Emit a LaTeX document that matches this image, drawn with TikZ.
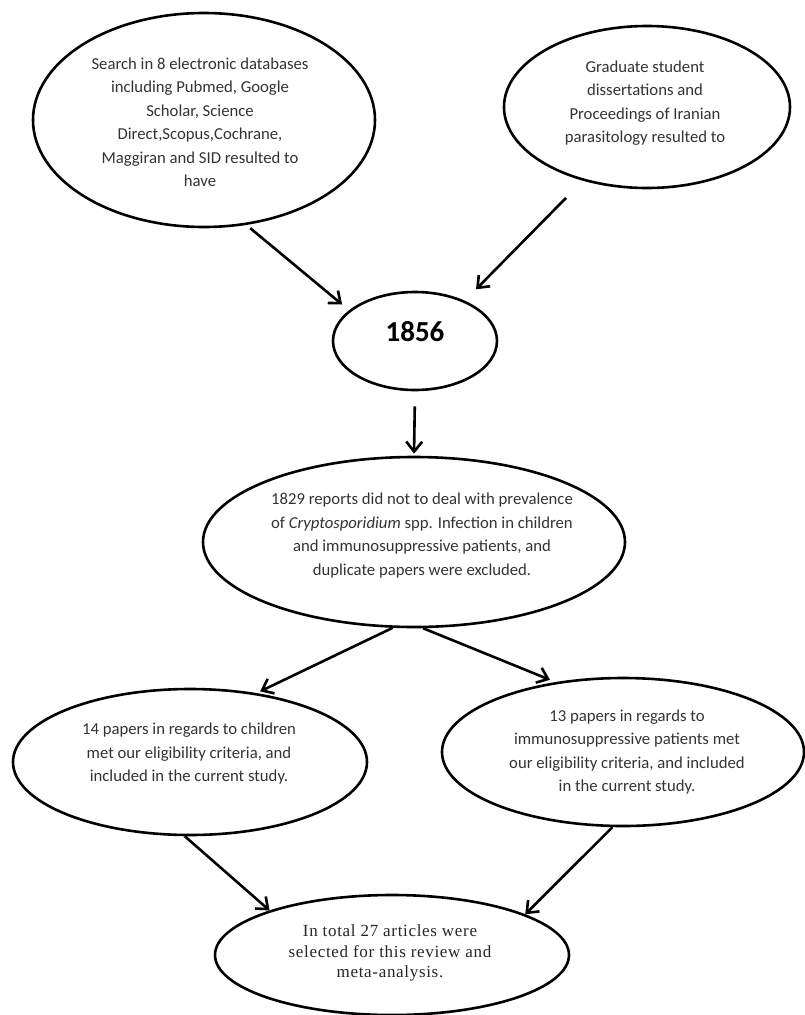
\documentclass[tikz,border=0pt]{standalone}
\usepackage{fontspec}
\setmainfont{Carlito}
\newfontfamily\timesf[LetterSpace=4]{Liberation Serif}
\usetikzlibrary{shapes.geometric,arrows.meta,calc}
\begin{document}
\begin{tikzpicture}[x=1pt,y=-1pt,
  ell/.style={draw=black, line width=2.6pt, ellipse, inner sep=0pt},
  txt/.style={align=center, text=black!80, font=\fontsize{16.7}{23.5}\selectfont, inner sep=0pt},
  arr/.style={line width=2.6pt, -{Straight Barb[length=10pt,width=16pt]}}]
\useasboundingbox (0,0) rectangle (804,1015);
\fill[white] (0,0) rectangle (804,1015);

% ellipses
\node[ell, minimum width=342pt, minimum height=214pt] (e1) at (204,120) {};
\node[ell, minimum width=286pt, minimum height=162pt] (e2) at (647,107) {};
\node[ell, minimum width=164pt, minimum height=98pt] (n1856) at (415,341) {};
\node[ell, minimum width=422pt, minimum height=170pt] (n1829) at (414,542) {};
\node[ell, minimum width=354pt, minimum height=146pt] (left) at (190,762) {};
\node[ell, minimum width=362pt, minimum height=148pt] (right) at (623,752) {};
\node[ell, minimum width=354pt, minimum height=120pt] (final) at (392,955) {};

% texts
\node[txt] (t1) at (200,122.5) {Search in 8 electronic databases\\including Pubmed, Google\\Scholar, Science\\Direct,Scopus,Cochrane,\\Maggiran and SID resulted to\\have};
\node[txt] (t2) at (645,103) {Graduate student\\dissertations and\\Proceedings of Iranian\\parasitology resulted to};
\node[txt, font=\fontsize{29}{32}\selectfont\bfseries, text=black] (t3) at (415,332) {1856};
\node[txt] (t4) at (422,535.5) {1829 reports did not to deal with prevalence\\of \textit{Cryptosporidium} spp. Infection in children\\and immunosuppressive patients, and\\duplicate papers were excluded.};
\node[txt] (t5) at (189,754) {14 papers in regards to children\\met our eligibility criteria, and\\included in the current study.};
\node[txt] (t6) at (627,752) {13 papers in regards to\\immunosuppressive patients met\\our eligibility criteria, and included\\in the current study.};
\node[txt, font=\timesf\fontsize{17}{20.5}\selectfont, text=black!85] (t7) at (390,953) {In total 27 articles were\\selected for this review and\\meta-analysis.};

% arrows
\draw[arr, shorten <=5pt, shorten >=9pt] (e1.-68) -- (n1856.155);
\draw[arr, shorten <=24pt, shorten >=16pt] (e2.-131) -- (n1856.39);
\draw[arr, shorten <=15pt, shorten >=2pt] (n1856.south) -- (n1829.north);
\draw[arr, shorten >=4pt] (n1829.-104) -- (left.46);
\draw[arr, shorten >=6pt] (n1829.-84) -- (right.134);
\draw[arr] (left.-94) -- (final.160);
\draw[arr] (right.-98) -- (final.17);
\end{tikzpicture}
\end{document}
